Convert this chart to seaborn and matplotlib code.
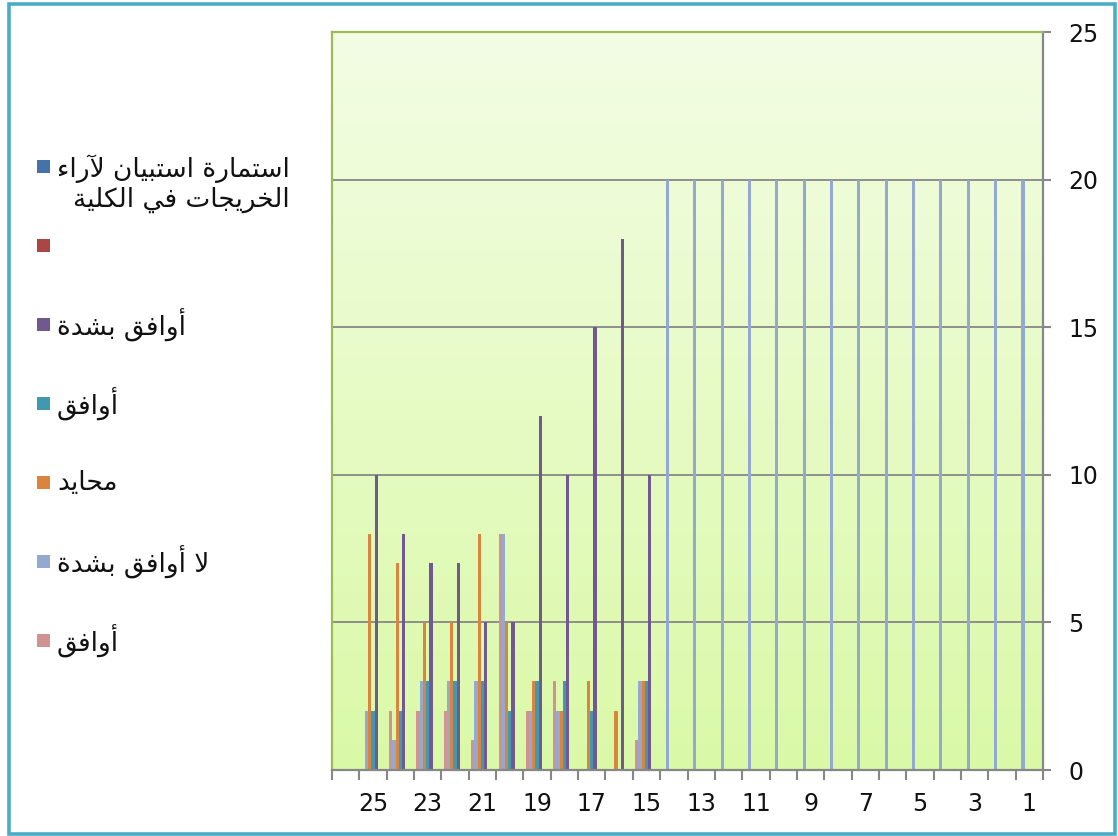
import numpy as np
import pandas as pd
import matplotlib
matplotlib.use("Agg")
import matplotlib.pyplot as plt
from matplotlib.patches import Rectangle
import seaborn as sns

# ---------------- data ----------------
categories = list(range(1, 27))  # 26 = empty leftmost slot
series_keys = ["s1", "s2", "s3", "s4", "s5", "s6", "s7"]
series_labels = ["استمارة استبيان لآراء\nالخريجات في الكلية", "", "أوافق بشدة", "أوافق",
                 "محايد", "لا أوافق بشدة", "أوافق"]
series_colors = ["#4572A7", "#AA4643", "#71588F", "#4198AF", "#DB843D", "#93A9CF", "#D19392"]

#            1  2  3  4  5  6  7  8  9 10 11 12 13 14 15 16 17 18 19 20 21 22 23 24 25 26
s1_vals = [0, 0, 0, 0, 0, 0, 0, 0, 0, 0, 0, 0, 0, 0, 0, 0, 0, 0, 0, 0, 0, 0, 0, 0, 0, 0]
s2_vals = [0, 0, 0, 0, 0, 0, 0, 0, 0, 0, 0, 0, 0, 0, 0, 0, 0, 0, 0, 0, 0, 0, 0, 0, 0, 0]
s3_vals = [0, 0, 0, 0, 0, 0, 0, 0, 0, 0, 0, 0, 0, 0, 10, 18, 15, 10, 12, 5, 5, 7, 7, 8, 10, 0]
s4_vals = [0, 0, 0, 0, 0, 0, 0, 0, 0, 0, 0, 0, 0, 0, 3, 0, 2, 3, 3, 2, 3, 3, 3, 2, 2, 0]
s5_vals = [0, 0, 0, 0, 0, 0, 0, 0, 0, 0, 0, 0, 0, 0, 3, 2, 3, 2, 3, 5, 8, 5, 5, 7, 8, 0]
s6_vals = [20, 20, 20, 20, 20, 20, 20, 20, 20, 20, 20, 20, 20, 20, 3, 0, 0, 2, 2, 8, 3, 3, 3, 1, 2, 0]
s7_vals = [0, 0, 0, 0, 0, 0, 0, 0, 0, 0, 0, 0, 0, 0, 1, 0, 0, 3, 2, 8, 1, 2, 2, 2, 0, 0]
y_ticks = [0, 5, 10, 15, 20, 25]
x_label_cats = [25, 23, 21, 19, 17, 15, 13, 11, 9, 7, 5, 3, 1]

all_vals = [s1_vals, s2_vals, s3_vals, s4_vals, s5_vals, s6_vals, s7_vals]
rows = []
for key, vals in zip(series_keys, all_vals):
    for c, v in zip(categories, vals):
        rows.append({"cat": str(c), "series": key, "value": v})
df = pd.DataFrame(rows)

# ---------------- minimal Arabic shaping ----------------
_FORMS = {
    '\u0621': (0xFE80, None), '\u0622': (0xFE81, 'R'), '\u0623': (0xFE83, 'R'),
    '\u0627': (0xFE8D, 'R'), '\u0628': (0xFE8F, 'D'), '\u0629': (0xFE93, 'R'),
    '\u062A': (0xFE95, 'D'), '\u062C': (0xFE9D, 'D'), '\u062D': (0xFEA1, 'D'),
    '\u062E': (0xFEA5, 'D'), '\u062F': (0xFEA9, 'R'), '\u0631': (0xFEAD, 'R'),
    '\u0633': (0xFEB1, 'D'), '\u0634': (0xFEB5, 'D'), '\u0641': (0xFED1, 'D'),
    '\u0642': (0xFED5, 'D'), '\u0643': (0xFED9, 'D'), '\u0644': (0xFEDD, 'D'),
    '\u0645': (0xFEE1, 'D'), '\u0646': (0xFEE5, 'D'), '\u0647': (0xFEE9, 'D'),
    '\u0648': (0xFEED, 'R'), '\u064A': (0xFEF1, 'D'),
}
_LAM_ALEF = {'\u0627': 0xFEFB, '\u0623': 0xFEF7, '\u0622': 0xFEF5}


def shape_line(text):
    tokens = []
    i = 0
    while i < len(text):
        c = text[i]
        if c == '\u0644' and i + 1 < len(text) and text[i + 1] in _LAM_ALEF:
            tokens.append(('L', 'R', _LAM_ALEF[text[i + 1]]))
            i += 2
            continue
        if c in _FORMS:
            base, kind = _FORMS[c]
            tokens.append((c, kind, base))
        else:
            tokens.append((c, None, None))
        i += 1
    out = []
    for j, (c, kind, base) in enumerate(tokens):
        if base is None:
            out.append(c)
            continue
        if kind is None:
            out.append(chr(base))
            continue
        prev_j = j > 0 and tokens[j - 1][1] == 'D'
        next_j = kind == 'D' and j + 1 < len(tokens) and tokens[j + 1][1] in ('D', 'R')
        off = 3 if (prev_j and next_j) else 1 if prev_j else 2 if next_j else 0
        out.append(chr(base + off))
    return ''.join(reversed(out))


def shape(text):
    return '\n'.join(shape_line(t) for t in text.split('\n'))


# ---------------- figure ----------------
sns.set_style("white")
plt.rcParams['font.family'] = ['DejaVu Sans']

W, H = 1118, 836
fig = plt.figure(figsize=(W / 100, H / 100), dpi=100)
fig.patch.set_facecolor("white")
ax = fig.add_axes([332 / W, 66 / H, 711 / W, 738 / H])

# gradient plot-area background
grad = np.linspace(0, 1, 256)[:, None]
top_c = np.array([0xF3, 0xFD, 0xE4]) / 255
bot_c = np.array([0xDA, 0xF9, 0xA7]) / 255
img = top_c[None, None, :] * (1 - grad[..., None]) + bot_c[None, None, :] * grad[..., None]
ax.imshow(img, extent=[0, 1, 0, 1], transform=ax.transAxes, aspect='auto', zorder=0)

order = [str(c) for c in reversed(categories)]
hue_order = list(reversed(series_keys))
palette = dict(zip(series_keys, series_colors))
sns.barplot(data=df, x="cat", y="value", hue="series", order=order, hue_order=hue_order,
            palette=palette, width=0.82, errorbar=None, legend=False, saturation=1,
            linewidth=0, ax=ax, zorder=3)

ax.set_xlim(-0.5, len(order) - 0.5)
ax.set_ylim(0, 25)
ax.set_xlabel("")
ax.set_ylabel("")

# y axis on the right
ax.yaxis.tick_right()
ax.set_yticks(y_ticks)
ax.set_yticklabels([str(t) for t in y_ticks])
ax.tick_params(axis='y', which='major', right=True, left=False, length=6, width=1.5,
               color='#878787', pad=12, labelsize=17, labelcolor='#111111')
ax.yaxis.grid(True, color='#878787', linewidth=1.3)
ax.xaxis.grid(False)
ax.set_axisbelow(True)

# x ticks: labels every other category, tick marks at boundaries
ax.set_xticks([order.index(str(c)) for c in x_label_cats])
ax.set_xticklabels([str(c) for c in x_label_cats])
ax.set_xticks(np.arange(-0.5, len(order), 1.0), minor=True)
ax.tick_params(axis='x', which='major', length=0, pad=16, labelsize=17, labelcolor='#111111')
ax.tick_params(axis='x', which='minor', bottom=True, length=7, width=1.5, color='#878787')

for side in ['top', 'left']:
    ax.spines[side].set_color('#9BBB59')
    ax.spines[side].set_linewidth(1.6)
for side in ['right', 'bottom']:
    ax.spines[side].set_color('#878787')
    ax.spines[side].set_linewidth(1.6)
for sp in ax.spines.values():
    sp.set_visible(True)
    sp.set_zorder(5)

# legend (left side)
legend_y = [166.5, 245.5, 324.5, 403.5, 482.5, 561.5, 640.5]
for key, lab, col, yy in zip(series_keys, series_labels, series_colors, legend_y):
    fig.patches.append(Rectangle((37 / W, 1 - (yy + 6.5) / H), 13 / W, 13 / H,
                                 transform=fig.transFigure, facecolor=col, edgecolor='none'))
    if lab:
        if '\n' in lab:
            fig.text(57 / W, 1 - (yy + 17.5) / H, shape(lab), ha='left', va='center',
                     multialignment='right', fontsize=19, color='#111111', linespacing=1.2)
        else:
            fig.text(57 / W, 1 - (yy + 1) / H, shape(lab), ha='left', va='center',
                     fontsize=19, color='#111111')

# outer border
fig.patches.append(Rectangle((8.5 / W, (H - 833.5) / H), (1115 - 8.5) / W, (833.5 - 3.7) / H,
                             transform=fig.transFigure, fill=False, edgecolor='#4BACC6',
                             linewidth=2.6))

fig.savefig("out.png", dpi=100)
